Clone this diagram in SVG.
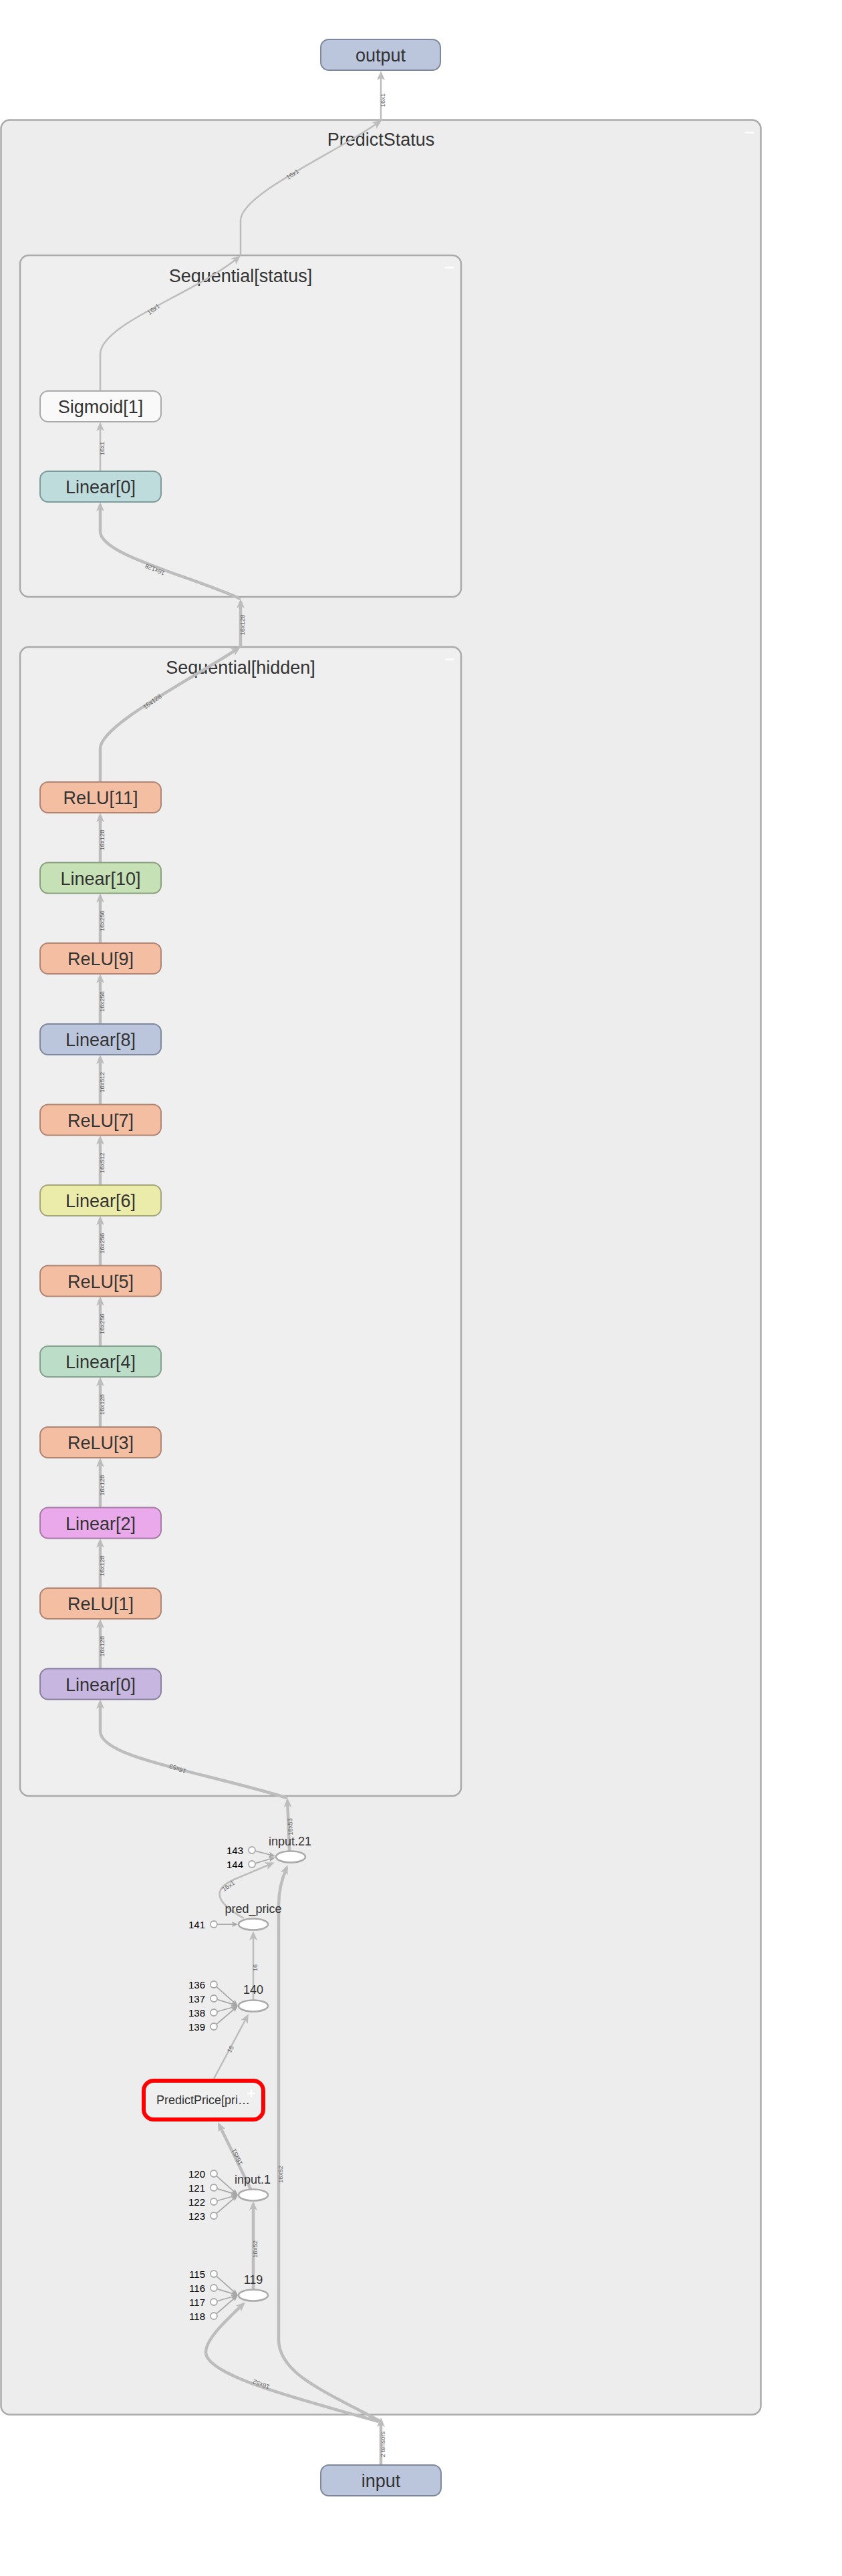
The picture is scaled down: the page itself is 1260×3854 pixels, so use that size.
<svg xmlns="http://www.w3.org/2000/svg" width="1260" height="3854" viewBox="0 0 1260 3854">
<style>
text{font-family:"Liberation Sans",Arial,Helvetica,sans-serif}
.ttl{font-size:27px;fill:#333;text-anchor:middle}
.nl{font-size:27px;fill:#333;text-anchor:middle}
.ol{font-size:18px;fill:#333;text-anchor:middle}
.cl{font-size:15px;fill:#000;text-anchor:end}
.el{font-size:9.5px;fill:#666;text-anchor:middle}
.cluster{stroke:#aaa;stroke-width:2.5}
.node{stroke-width:2}
.e{fill:none;stroke:#bdbdbd;marker-end:url(#ah)}
.thick{stroke-width:4.5}
.thin{stroke-width:2.5}
.ce{fill:none;stroke:#a8a8a8;stroke-width:1.8;marker-end:url(#ahs)}
.circ{fill:#fff;stroke:#aaa;stroke-width:1.8}
.ell{fill:#fff;stroke:#aaa;stroke-width:2.5}
.relu{fill:#f4bea3;stroke:#b08574}
.icon{fill:#fff}
</style>
<defs>
<marker id="ah" viewBox="0 0 14 12" refX="10" refY="6" markerWidth="14" markerHeight="12" markerUnits="userSpaceOnUse" orient="auto"><path d="M0,0 L14,6 L0,12 L3.5,6 Z" fill="#bdbdbd"/></marker>
<marker id="ahs" viewBox="0 0 10 8" refX="8" refY="4" markerWidth="10" markerHeight="8" markerUnits="userSpaceOnUse" orient="auto"><path d="M0,0 L10,4 L0,8 L2.5,4 Z" fill="#a8a8a8"/></marker>
</defs>
<rect x="0" y="0" width="1260" height="3854" fill="#fff"/>

<g id="cluster-PredictStatus">
<rect class="cluster" x="1.5" y="179.5" width="1137" height="3433" rx="13" fill="#ededed"/>
<text class="ttl" x="570" y="218">PredictStatus</text>
<rect class="icon" x="1115" y="197" width="13" height="2.5"/>
</g>
<g id="cluster-status">
<rect class="cluster" x="30" y="382" width="660" height="511" rx="13" fill="#efefef"/>
<text class="ttl" x="360" y="422">Sequential[status]</text>
<rect class="icon" x="666" y="399" width="13" height="2.5"/>
</g>
<g id="cluster-hidden">
<rect class="cluster" x="30" y="968" width="660" height="1719" rx="13" fill="#efefef"/>
<text class="ttl" x="360" y="1008">Sequential[hidden]</text>
<rect class="icon" x="666" y="985.5" width="13" height="2.5"/>
</g>

<g id="edges">
<path class="e thin" d="M570,180 L570,110"/>
<text class="el" transform="translate(570,150) rotate(-90)" dy="5.5">16x1</text>
<path class="e thin" d="M360,382 L360,330 C360,290 498,232 568,182"/>
<text class="el" transform="translate(438,261) rotate(-33)" dy="3">16x1</text>
<path class="e thin" d="M150,585 L150,530 C150,485 290,440 357,385"/>
<text class="el" transform="translate(230,463) rotate(-38)" dy="3">16x1</text>
<path class="e thin" d="M150,705 L150,635"/>
<text class="el" transform="translate(150,671) rotate(-90)" dy="5.5">16x1</text>
<path class="e thick" d="M360,896 C280,860 150,830 150,795 L150,755"/>
<text class="el" transform="translate(232,852) rotate(203)" dy="3">16x128</text>
<path class="e thick" d="M360,968 L360,900"/>
<text class="el" transform="translate(360,935) rotate(-90)" dy="5.5">16x128</text>
<path class="e thick" d="M150,1170 L150,1120 C150,1085 280,1020 356.6,970.2"/>
<text class="el" transform="translate(228,1050) rotate(-35)" dy="3">16x128</text>

<path class="e thick" d="M150,1290.5 L150,1220"/>
<text class="el" transform="translate(150,1257) rotate(-90)" dy="5.5">16x128</text>
<path class="e thick" d="M150,1411 L150,1340.5"/>
<text class="el" transform="translate(150,1377.75) rotate(-90)" dy="5.5">16x256</text>
<path class="e thick" d="M150,1532 L150,1461"/>
<text class="el" transform="translate(150,1498.5) rotate(-90)" dy="5.5">16x256</text>
<path class="e thick" d="M150,1652.5 L150,1582"/>
<text class="el" transform="translate(150,1619.25) rotate(-90)" dy="5.5">16x512</text>
<path class="e thick" d="M150,1773 L150,1702.5"/>
<text class="el" transform="translate(150,1739.75) rotate(-90)" dy="5.5">16x512</text>
<path class="e thick" d="M150,1893.5 L150,1823"/>
<text class="el" transform="translate(150,1860.25) rotate(-90)" dy="5.5">16x256</text>
<path class="e thick" d="M150,2014 L150,1943.5"/>
<text class="el" transform="translate(150,1980.75) rotate(-90)" dy="5.5">16x256</text>
<path class="e thick" d="M150,2135 L150,2064"/>
<text class="el" transform="translate(150,2101.5) rotate(-90)" dy="5.5">16x128</text>
<path class="e thick" d="M150,2255.5 L150,2185"/>
<text class="el" transform="translate(150,2222.25) rotate(-90)" dy="5.5">16x128</text>
<path class="e thick" d="M150,2376 L150,2305.5"/>
<text class="el" transform="translate(150,2342.75) rotate(-90)" dy="5.5">16x128</text>
<path class="e thick" d="M150,2496.5 L150,2426"/>
<text class="el" transform="translate(150,2463.25) rotate(-90)" dy="5.5">16x128</text>

<path class="e thick" d="M430,2690 C300,2650 150,2630 150,2590 L150,2546.5"/>
<text class="el" transform="translate(266,2646) rotate(200)" dy="3">16x53</text>
<path class="e thick" d="M433,2769 L430.2,2694"/>
<text class="el" transform="translate(432,2733) rotate(-92)" dy="5.5">16x53</text>
<path class="e thin" d="M365,2870 C325,2848 315,2828 350,2812 L407,2788"/>
<text class="el" transform="translate(342,2822) rotate(-35)" dy="3">16x1</text>
<path class="e thick" d="M568,3622 C480,3575 417,3550 417,3500 L417,2850 C417,2825 423,2808 429,2794"/>
<text class="el" transform="translate(417,3253) rotate(-90)" dy="5.5">16x52</text>
<path class="e thick" d="M567,3623 C450,3590 310,3555 308,3520 C307,3500 340,3470 364,3447"/>
<text class="el" transform="translate(391,3567) rotate(200)" dy="3">16x52</text>
<path class="e thick" d="M570,3688 L570,3621"/>
<text class="el" transform="translate(570,3657) rotate(-90)" dy="5.5">2 tensors</text>
<path class="e thick" d="M379,3425 L379,3297"/>
<text class="el" transform="translate(379,3365) rotate(-90)" dy="5.5">16x52</text>
<path class="e thick" d="M375,3275 L327.8,3178.6"/>
<text class="el" transform="translate(355,3227) rotate(-116)" dy="3">16x51</text>
<path class="e thin" d="M320,3110 L370.1,3016.5"/>
<text class="el" transform="translate(345,3066) rotate(-62)" dy="3">16</text>
<path class="e thin" d="M379,2992 L379,2893"/>
<text class="el" transform="translate(379,2944) rotate(-90)" dy="5.5">16</text>

<path class="ce" d="M382.3,2769.4 L410,2776.5"/>
<path class="ce" d="M382.3,2787.6 L410,2779.5"/>
<path class="ce" d="M325.5,2879 L354.5,2879"/>
<path class="ce" d="M324.1,2972.7 L354.5,2999.7"/>
<path class="ce" d="M325.3,2991.6 L354.1,3000.4"/>
<path class="ce" d="M325.3,3009.5 L354.1,3001.5"/>
<path class="ce" d="M324.2,3028.4 L354.5,3002.3"/>
<path class="ce" d="M324.1,3255.7 L354.5,3282.7"/>
<path class="ce" d="M325.3,3274.6 L354.1,3283.4"/>
<path class="ce" d="M325.3,3292.5 L354.1,3284.5"/>
<path class="ce" d="M324.2,3311.4 L354.5,3285.3"/>
<path class="ce" d="M324.1,3405.7 L354.5,3432.7"/>
<path class="ce" d="M325.3,3424.6 L354.1,3433.4"/>
<path class="ce" d="M325.3,3442.5 L354.1,3434.5"/>
<path class="ce" d="M324.2,3461.4 L354.5,3435.3"/>
</g>

<g id="node-output">
<rect class="node" x="480" y="59" width="179" height="46" rx="12" fill="#bbc5dc" stroke="#7f899e"/>
<text class="nl" x="569.5" y="92">output</text>
</g>
<g id="node-input">
<rect class="node" x="480" y="3688" width="180" height="46" rx="12" fill="#bbc5dc" stroke="#7f899e"/>
<text class="nl" x="570" y="3721">input</text>
</g>

<g id="node-status-Sigmoid1">
<rect class="node" x="60" y="585" width="181" height="46" rx="12" fill="#f9f9f9" stroke="#aaa"/>
<text class="nl" x="150.5" y="618">Sigmoid[1]</text>
</g>
<g id="node-status-Linear0">
<rect class="node" x="60" y="705" width="181" height="46" rx="12" fill="#bedcdc" stroke="#7d9b9b"/>
<text class="nl" x="150.5" y="738">Linear[0]</text>
</g>

<g id="node-hidden-ReLU11">
<rect class="node relu" x="60" y="1170" width="181" height="46" rx="12"/>
<text class="nl" x="150.5" y="1203">ReLU[11]</text>
</g>
<g id="node-hidden-Linear10">
<rect class="node" x="60" y="1290.5" width="181" height="46" rx="12" fill="#c5e1b5" stroke="#8aa07e"/>
<text class="nl" x="150.5" y="1323.5">Linear[10]</text>
</g>
<g id="node-hidden-ReLU9">
<rect class="node relu" x="60" y="1411" width="181" height="46" rx="12"/>
<text class="nl" x="150.5" y="1444">ReLU[9]</text>
</g>
<g id="node-hidden-Linear8">
<rect class="node" x="60" y="1532" width="181" height="46" rx="12" fill="#bbc5dc" stroke="#7f899e"/>
<text class="nl" x="150.5" y="1565">Linear[8]</text>
</g>
<g id="node-hidden-ReLU7">
<rect class="node relu" x="60" y="1652.5" width="181" height="46" rx="12"/>
<text class="nl" x="150.5" y="1685.5">ReLU[7]</text>
</g>
<g id="node-hidden-Linear6">
<rect class="node" x="60" y="1773" width="181" height="46" rx="12" fill="#ececaa" stroke="#a6a67b"/>
<text class="nl" x="150.5" y="1806">Linear[6]</text>
</g>
<g id="node-hidden-ReLU5">
<rect class="node relu" x="60" y="1893.5" width="181" height="46" rx="12"/>
<text class="nl" x="150.5" y="1926.5">ReLU[5]</text>
</g>
<g id="node-hidden-Linear4">
<rect class="node" x="60" y="2014" width="181" height="46" rx="12" fill="#bcdec8" stroke="#84a18d"/>
<text class="nl" x="150.5" y="2047">Linear[4]</text>
</g>
<g id="node-hidden-ReLU3">
<rect class="node relu" x="60" y="2135" width="181" height="46" rx="12"/>
<text class="nl" x="150.5" y="2168">ReLU[3]</text>
</g>
<g id="node-hidden-Linear2">
<rect class="node" x="60" y="2255.5" width="181" height="46" rx="12" fill="#eaa9ea" stroke="#a87aa8"/>
<text class="nl" x="150.5" y="2288.5">Linear[2]</text>
</g>
<g id="node-hidden-ReLU1">
<rect class="node relu" x="60" y="2376" width="181" height="46" rx="12"/>
<text class="nl" x="150.5" y="2409">ReLU[1]</text>
</g>
<g id="node-hidden-Linear0">
<rect class="node" x="60" y="2496.5" width="181" height="46" rx="12" fill="#c7b7e0" stroke="#8b80a0"/>
<text class="nl" x="150.5" y="2529.5">Linear[0]</text>
</g>

<g id="node-input21">
<ellipse class="ell" cx="435" cy="2778" rx="22" ry="8.5"/>
<text class="ol" x="434" y="2760.5">input.21</text>
</g>
<g id="node-143"><circle class="circ" cx="377" cy="2768" r="5"/><text class="cl" x="364" y="2773.5">143</text></g>
<g id="node-144"><circle class="circ" cx="377" cy="2789" r="5"/><text class="cl" x="364" y="2794.5">144</text></g>

<g id="node-pred_price">
<ellipse class="ell" cx="379" cy="2879" rx="22" ry="8.5"/>
<text class="ol" x="379" y="2861.5">pred_price</text>
</g>
<g id="node-141"><circle class="circ" cx="320" cy="2879" r="5"/><text class="cl" x="307" y="2884.5">141</text></g>

<g id="node-140">
<ellipse class="ell" cx="379" cy="3001" rx="22" ry="8.5"/>
<text class="ol" x="379" y="2983">140</text>
</g>
<g id="node-136"><circle class="circ" cx="320" cy="2969" r="5"/><text class="cl" x="307" y="2974.5">136</text></g>
<g id="node-137"><circle class="circ" cx="320" cy="2990" r="5"/><text class="cl" x="307" y="2995.5">137</text></g>
<g id="node-138"><circle class="circ" cx="320" cy="3011" r="5"/><text class="cl" x="307" y="3016.5">138</text></g>
<g id="node-139"><circle class="circ" cx="320" cy="3032" r="5"/><text class="cl" x="307" y="3037.5">139</text></g>

<g id="node-PredictPrice">
<rect x="215" y="3113" width="179" height="58" rx="15" fill="#efefef" stroke="#ff0000" stroke-width="6"/>
<text class="ol" x="304" y="3148">PredictPrice[pri…</text>
<path d="M376,3126 L376,3138 M370,3132 L382,3132" stroke="#fff" stroke-width="2.5"/>
</g>

<g id="node-input1">
<ellipse class="ell" cx="379" cy="3284" rx="22" ry="8.5"/>
<text class="ol" x="378" y="3266.5">input.1</text>
</g>
<g id="node-120"><circle class="circ" cx="320" cy="3252" r="5"/><text class="cl" x="307" y="3257.5">120</text></g>
<g id="node-121"><circle class="circ" cx="320" cy="3273" r="5"/><text class="cl" x="307" y="3278.5">121</text></g>
<g id="node-122"><circle class="circ" cx="320" cy="3294" r="5"/><text class="cl" x="307" y="3299.5">122</text></g>
<g id="node-123"><circle class="circ" cx="320" cy="3315" r="5"/><text class="cl" x="307" y="3320.5">123</text></g>

<g id="node-119">
<ellipse class="ell" cx="379" cy="3434" rx="22" ry="8.5"/>
<text class="ol" x="379" y="3416.5">119</text>
</g>
<g id="node-115"><circle class="circ" cx="320" cy="3402" r="5"/><text class="cl" x="307" y="3407.5">115</text></g>
<g id="node-116"><circle class="circ" cx="320" cy="3423" r="5"/><text class="cl" x="307" y="3428.5">116</text></g>
<g id="node-117"><circle class="circ" cx="320" cy="3444" r="5"/><text class="cl" x="307" y="3449.5">117</text></g>
<g id="node-118"><circle class="circ" cx="320" cy="3465" r="5"/><text class="cl" x="307" y="3470.5">118</text></g>
</svg>
